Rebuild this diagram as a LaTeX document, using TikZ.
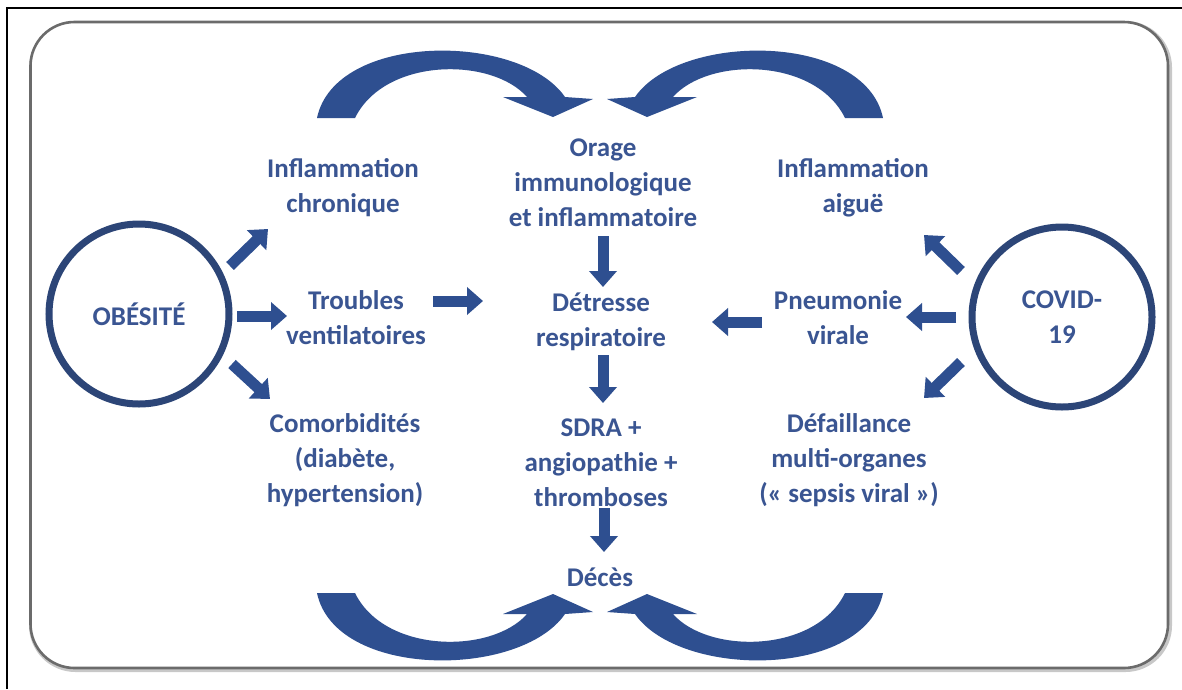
\documentclass[tikz,border=0pt]{standalone}
\usepackage{fontspec}
\setmainfont{Carlito}
\usetikzlibrary{arrows.meta}
\definecolor{txt}{HTML}{3A5592}
\definecolor{arr}{HTML}{2E4F90}
\definecolor{circ}{HTML}{2C4577}
\definecolor{framec}{HTML}{6B6B6B}
\definecolor{shadowc}{HTML}{C8C8C8}
\tikzset{
  lbl/.style={font=\fontsize{27}{35}\selectfont\bfseries, text=txt, align=center, inner sep=0pt},
  blk/.style={line width=11pt, draw=arr, -{Triangle[length=16pt,width=27pt]}},
  ring/.style={circle, draw=circ, line width=7pt, minimum size=180pt, inner sep=0pt},
  curvearr/.style={fill=arr}
}
\begin{document}
\begin{tikzpicture}[x=1pt,y=-1pt]
\useasboundingbox (0,0) rectangle (1182,689);
% outer black frame (partly cropped)
\draw[line width=2pt] (7,689) -- (7,8.3) -- (1182,8.3);
% rounded panel
\draw[shadowc, line width=5pt, rounded corners=44pt] (31.5,23.5) rectangle (1169.5,669.5);
\draw[framec, line width=2.6pt, rounded corners=44pt, fill=white] (30.5,22) rectangle (1168,668);

% circles
\node[ring, lbl] (obe) at (139,314) {OBÉSITÉ};
\node[ring, lbl] (cov) at (1062,317) {COVID-\\19};

% text nodes
\node[lbl] (infc) at (343,188) {Inflammation\\chronique};
\node[lbl] (trou) at (356,318) {Troubles\\ventilatoires};
\node[lbl] (como) at (345,460) {Comorbidités\\(diabète,\\hypertension)};
\node[lbl] (orag) at (603,183) {Orage\\immunologique\\et inflammatoire};
\node[lbl] (detr) at (601,322) {Détresse\\respiratoire};
\node[lbl] (sdra) at (601,463) {SDRA +\\angiopathie +\\thromboses};
\node[lbl] (dece) at (600,577) {Décès};
\node[lbl] (infa) at (853,188) {Inflammation\\aiguë};
\node[lbl] (pneu) at (838,318) {Pneumonie\\virale};
\node[lbl] (defa) at (849,460) {Défaillance\\multi-organes\\(« sepsis viral »)};

% arrow end points
\coordinate (a1s) at (230,266); \coordinate (a1e) at (268,229);
\coordinate (a2s) at (237,316); \coordinate (a2e) at (287,316);
\coordinate (a3s) at (232,364); \coordinate (a3e) at (270,399);
\coordinate (a4s) at (433,301); \coordinate (a4e) at (483,301);
\coordinate (a5s) at (603,236); \coordinate (a5e) at (603,287);
\coordinate (a6s) at (603,355); \coordinate (a6e) at (603,403);
\coordinate (a7s) at (604,508); \coordinate (a7e) at (604,552);
\coordinate (a8s) at (762,322); \coordinate (a8e) at (712,322);
\coordinate (a9s) at (961,271); \coordinate (a9e) at (924,235);
\coordinate (a10s) at (956,317); \coordinate (a10e) at (906,317);
\coordinate (a11s) at (961,362); \coordinate (a11e) at (924,398);

\draw[blk] (a1s) -- (a1e);
\draw[blk] (a2s) -- (a2e);
\draw[blk] (a3s) -- (a3e);
\draw[blk] (a4s) -- (a4e);
\draw[blk] (a5s) -- (a5e);
\draw[blk] (a6s) -- (a6e);
\draw[blk] (a7s) -- (a7e);
\draw[blk] (a8s) -- (a8e);
\draw[blk] (a9s) -- (a9e);
\draw[blk] (a10s) -- (a10e);
\draw[blk] (a11s) -- (a11e);

% curved arrows
\fill[curvearr] (317,118) .. controls (335,32) and (520,32) .. (565,97) -- (593,99) -- (553,117) -- (503,97) -- (527,97) .. controls (492,57) and (385,57) .. (355,118) -- cycle;
\begin{scope}[shift={(1200,0)}, xscale=-1]
\fill[curvearr] (317,118) .. controls (335,32) and (520,32) .. (565,97) -- (593,99) -- (553,117) -- (503,97) -- (527,97) .. controls (492,57) and (385,57) .. (355,118) -- cycle;
\end{scope}
\begin{scope}[shift={(0,711)}, yscale=-1]
\fill[curvearr] (317,118) .. controls (335,32) and (520,32) .. (565,97) -- (593,99) -- (553,117) -- (503,97) -- (527,97) .. controls (492,57) and (385,57) .. (355,118) -- cycle;
\end{scope}
\begin{scope}[shift={(1200,711)}, xscale=-1, yscale=-1]
\fill[curvearr] (317,118) .. controls (335,32) and (520,32) .. (565,97) -- (593,99) -- (553,117) -- (503,97) -- (527,97) .. controls (492,57) and (385,57) .. (355,118) -- cycle;
\end{scope}
\end{tikzpicture}
\end{document}
